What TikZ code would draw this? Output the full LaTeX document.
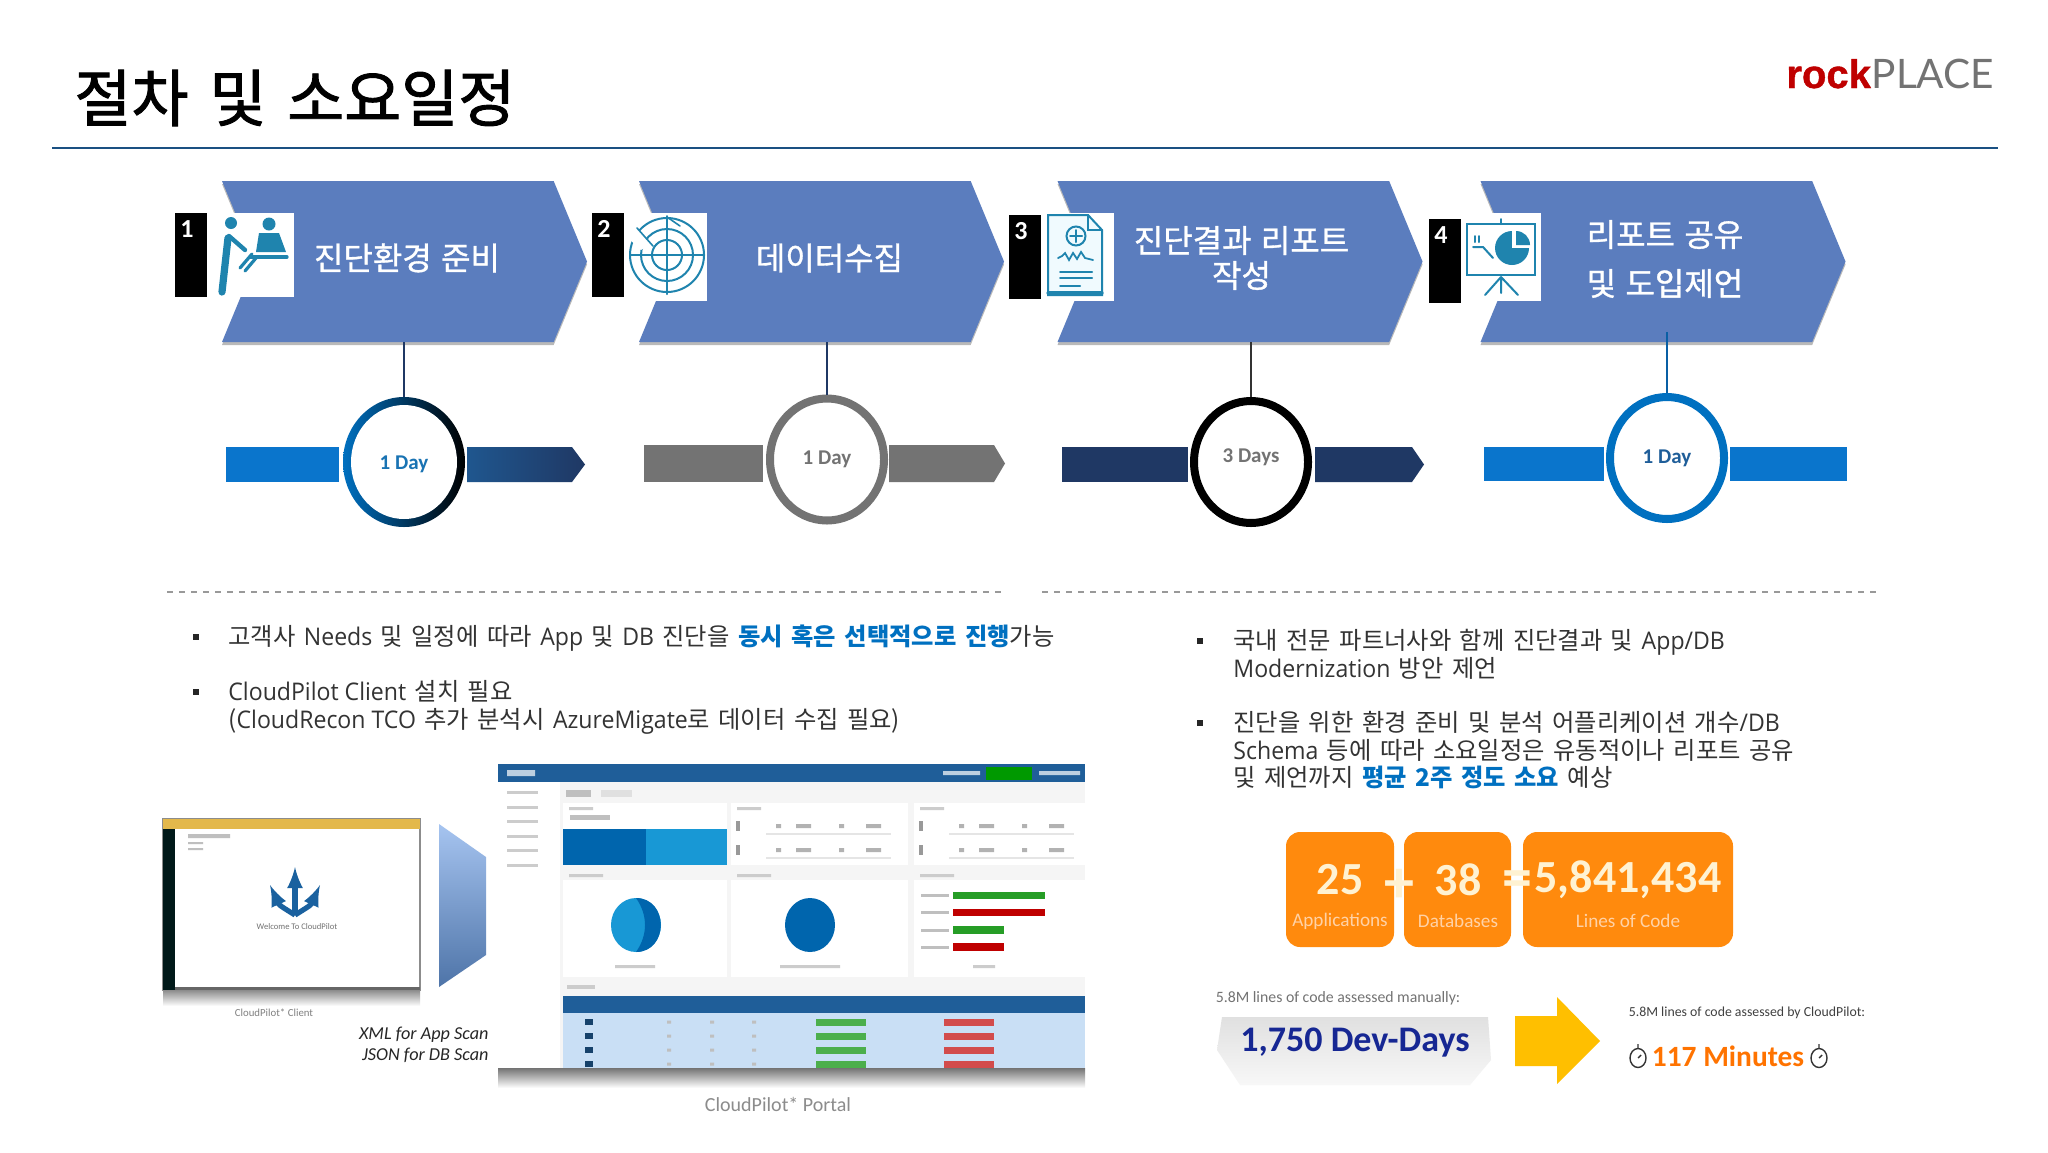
\documentclass[tikz,border=0pt]{standalone}
\usepackage{fontspec}
\setmainfont[WordSpace=1.55]{Noto Sans CJK KR}
\newfontfamily\titlefont[FakeBold=1.5,WordSpace=1.5]{Noto Sans CJK KR}
\newfontfamily\steplabfont[FakeBold=1,WordSpace=1.3]{Noto Sans CJK KR}
\newfontfamily\latfont[FakeStretch=.95]{Open Sans}
\newfontfamily\carlfont{Carlito}
\newfontfamily\rockfont[BoldFeatures={FakeBold=1}]{Liberation Sans}
\newfontfamily\thinfont{Lato}
\usetikzlibrary{shapes.symbols,shapes.geometric,shadows}

\definecolor{chevblue}{HTML}{5B7DBE}
\definecolor{hiblue}{HTML}{0070C0}
\definecolor{barblue}{HTML}{0A75CC}
\definecolor{navy}{HTML}{1F3864}
\definecolor{iconblue}{HTML}{1F84AE}
\definecolor{orangebox}{HTML}{FF8A0D}
\definecolor{cream}{HTML}{FFF2D2}
\definecolor{portalblue}{HTML}{1F5E99}
\definecolor{gradtop}{HTML}{A6C4F0}
\definecolor{gradbot}{HTML}{4E74A8}
\definecolor{winbar}{HTML}{E3B84B}
\definecolor{tablerow}{HTML}{C9DFF5}

\tikzset{
  chevron/.style={shape=signal,signal from=west,signal to=east,signal pointer angle=135,
    fill=chevblue,inner sep=0pt,minimum width=182.5pt,minimum height=80.5pt,
    drop shadow={shadow xshift=0pt,shadow yshift=-1.5pt,fill=gray,opacity=.55}},
  steplab/.style={text=white,inner sep=0pt,align=center,font=\steplabfont\fontsize{16}{17.5}\selectfont},
  tagbox/.style={fill=black,inner sep=0pt,minimum width=16pt,minimum height=42pt},
  tagnum/.style={text=white,inner sep=0pt,font=\carlfont\bfseries\fontsize{13}{13}\selectfont},
  ring/.style={shape=ellipse,draw,line width=4pt,fill=white,inner sep=0pt,minimum width=57pt,minimum height=61pt},
  daylab/.style={inner sep=0pt,font=\carlfont\bfseries\fontsize{10.5}{11}\selectfont},
  bodytext/.style={anchor=north west,inner sep=0pt,align=left,text=black!80,font=\fontsize{12.15}{13.75}\selectfont},
  bulletbox/.style={fill=black!85,inner sep=0pt,minimum size=3.3pt},
  orangecard/.style={fill=orangebox,rounded corners=7pt,inner sep=0pt},
  bignum/.style={text=cream,inner sep=0pt,font=\carlfont\bfseries\fontsize{23}{24}\selectfont},
  smalllab/.style={text=orange!35!white,inner sep=0pt,font=\carlfont\fontsize{9.6}{10}\selectfont},
  signlab/.style={text=cream,inner sep=0pt,font=\carlfont\bfseries\fontsize{30}{30}\selectfont},
}

\begin{document}
\begin{tikzpicture}[x=0.5pt,y=-0.5pt]
  \useasboundingbox (0,0) rectangle (2048,1152);
  \fill[white] (0,0) rectangle (2048,1152);

  \node[anchor=west,inner sep=0pt,font=\titlefont\fontsize{31}{31}\selectfont] (title) at (74,98) {절차 및 소요일정};
  \coordinate (ruleL) at (52,148);
  \coordinate (ruleR) at (1998,148);
  \draw[line width=1.2pt,color=portalblue!85!black] (ruleL) -- (ruleR);
  \node[anchor=base west,inner sep=0pt,text=red!75!black,font=\rockfont\bfseries\fontsize{20}{20}\selectfont] (rock) at (1786,88) {rock};
  \node[anchor=base west,inner sep=0pt,text=black!55,font=\thinfont\fontsize{20.3}{21}\selectfont] (place) at (rock.base east) {PLACE};

  % process row
  \node[chevron] (chev1) at (404.5,261.5) {};
  \node[chevron] (chev2) at (821.5,261.5) {};
  \node[chevron] (chev3) at (1240,261.5) {};
  \node[chevron] (chev4) at (1663,261.5) {};
  \node[steplab] (lab1) at (407,258) {진단환경 준비};
  \node[steplab] (lab2) at (829.5,258) {데이터수집};
  \node[steplab] (lab3) at (1241.5,258) {진단결과 리포트\\작성};
  \node[steplab,font=\steplabfont\fontsize{16}{24.5}\selectfont] (lab4) at (1665,259) {리포트 공유\\및 도입제언};
  \foreach \x/\y/\w/\h in {258/255/71/84,669/257/76/88,1080/257/67/88,1503/257/75/88}
    \fill[white] (\x-\w/2,\y-\h/2) rectangle (\x+\w/2,\y+\h/2);
  \foreach \i/\x/\y in {1/191/255,2/608/255,3/1025/257,4/1445/261} {
    \node[tagbox] (tag\i) at (\x,\y) {};
    \node[tagnum] (num\i) at (\x-4,\y-26) {\i};
  }

  % icons
  \begin{scope}[iconblue,line cap=round]
    \fill (231,223) circle (6);
    \fill (269,224) circle (6.5);
    \draw[line width=3.6pt] (228,238) -- (222,292);
    \draw[line width=2.2pt] (229,236) -- (245,250);
    \fill (259,233) -- (279,233) -- (286,252) -- (256,252) -- cycle;
    \draw[line width=1.6pt] (250,257) -- (287,257);
    \draw[line width=1.6pt] (240,268) -- (252,254) (245,271) -- (256,258);

    \draw[line width=1pt] (667,255) circle (37) (667,255) circle (26) (667,255) circle (15);
    \draw[line width=1pt] (630,255) -- (704,255) (667,216) -- (667,294);
    \draw[line width=1.2pt] (661,255) -- (673,255) (667,249) -- (667,261);
    \fill[white] (637,228) -- (650,244) -- (641,250) -- (628,238) -- cycle;
    \draw[line width=.8pt] (667,217) -- (680,226) (637,228) -- (653,246);

    \draw[line width=1pt,fill=cyan!6] (1048,215) -- (1088,215) -- (1102,230) -- (1102,295) -- (1048,295) -- cycle;
    \draw[line width=.8pt] (1088,215) -- (1088,230) -- (1102,230);
    \draw[line width=1.6pt] (1048,293) -- (1102,293);
    \draw[line width=1pt] (1076,236) circle (9.5);
    \draw[line width=1pt] (1070,236) -- (1082,236) (1076,230) -- (1076,242);
    \draw[line width=.9pt] (1058,258) -- (1062,256) -- (1065,253) -- (1069,260) -- (1073,253) -- (1077,259) -- (1081,252) -- (1085,258) -- (1093,260);
    \draw[line width=1pt] (1060,272) -- (1092,272) (1060,278) -- (1092,278) (1060,286) -- (1080,286);

    \draw[line width=1pt] (1467,224) rectangle (1535,275);
    \draw[line width=1pt] (1501,219) -- (1501,224);
    \fill (1512,248) circle (17);
    \fill[white] (1512,248) rectangle (1532,228);
    \fill (1516,245) -- (1516,231) arc[start angle=-90,end angle=0,radius=14] -- cycle;
    \draw[line width=1pt] (1473,247) -- (1483,247) -- (1493,258);
    \draw[line width=1pt] (1475,236) -- (1475,242) (1479,236) -- (1479,242);
    \draw[line width=1pt] (1501,277) -- (1485,295) (1501,277) -- (1501,293) (1501,277) -- (1518,295);
  \end{scope}

  % duration row
  \fill[color=barblue] (226,447) rectangle (339,482);
  \path[left color=portalblue!80!navy,right color=navy] (467,447) -- (572,447) -- (585,464.5) -- (572,482) -- (467,482) -- cycle;
  \fill[color=black!55] (644,445) rectangle (763,482);
  \fill[color=black!55] (889,445) -- (994,445) -- (1005,463.5) -- (994,482) -- (889,482) -- cycle;
  \fill[color=navy] (1062,447) rectangle (1188,482);
  \fill[color=navy] (1315,447) -- (1412,447) -- (1424,464.5) -- (1412,482) -- (1315,482) -- cycle;
  \fill[color=barblue] (1484,447) rectangle (1604,481);
  \fill[color=barblue] (1730,447) rectangle (1847,481);

  \node[shape=ellipse,left color=hiblue,right color=black,inner sep=0pt,minimum width=61pt,minimum height=65pt] (shade1) at (404,462) {};
  \node[ring,draw=none,minimum width=53pt,minimum height=57pt] (ring1) at (404,462) {};
  \node[ring,draw=black!55] (ring2) at (827,459.5) {};
  \node[ring,draw=black] (ring3) at (1251,462) {};
  \node[ring,draw=hiblue] (ring4) at (1667,458) {};
  \node[daylab,text=hiblue!80!gray] (day1) at (404,464) {1 Day};
  \node[daylab,text=black!55] (day2) at (827,459) {1 Day};
  \node[daylab,text=black!55] (day3) at (1251,457) {3 Days};
  \node[daylab,text=portalblue] (day4) at (1667,458) {1 Day};
  \coordinate (drop4) at (1667,332);
  \draw[line width=1pt,navy] (shade1.north) -- (shade1.north |- chev1.south);
  \draw[line width=1pt,navy] (ring2.north) -- (ring2.north |- chev2.south);
  \draw[line width=1pt,black!80] (ring3.north) -- (ring3.north |- chev3.south);
  \draw[line width=1pt,hiblue!70!navy] (ring4.north) -- (drop4);

  % notes
  \draw[dashed,line width=.6pt,black!40] (167,592) -- (1005,592);
  \draw[dashed,line width=.6pt,black!40] (1042,592) -- (1881,592);

  \foreach \n/\x/\y in {a/196/637,b/196/692,c/1200/641,d/1200/723}
    \node[bulletbox] (bul\n) at (\x,\y) {};
  \node[bodytext] (notea) at (228,625) {고객사 {\latfont Needs} 및 일정에 따라 {\latfont App} 및 {\latfont DB} 진단을 {\bfseries\color{hiblue}동시 혹은 선택적으로 진행}가능};
  \node[bodytext] (noteb) at (228,680) {{\latfont CloudPilot Client} 설치 필요\\({\latfont CloudRecon TCO} 추가 분석시 {\latfont AzureMigate}로 데이터 수집 필요)};
  \node[bodytext] (notec) at (1233,629) {국내 전문 파트너사와 함께 진단결과 및 {\latfont App/DB}\\{\latfont Modernization} 방안 제언};
  \node[bodytext] (noted) at (1233,711) {진단을 위한 환경 준비 및 분석 어플리케이션 개수{\latfont /DB}\\{\latfont Schema} 등에 따라 소요일정은 유동적이나 리포트 공유\\및 제언까지 {\bfseries\color{hiblue}평균 2주 정도 소요} 예상};

  % client window
  \path[top color=black!45,bottom color=white] (163,990) rectangle (420,1006);
  \fill[color=white] (163,819) rectangle (420,990);
  \draw[line width=.6pt,black!45] (163,819) rectangle (420,990);
  \fill[color=winbar] (163,819) rectangle (420,829);
  \fill[color=black!80!teal] (163,829) rectangle (175,990);
  \fill[color=black!60] (175,987) rectangle (420,990);
  \fill[color=black!25] (188,834) rectangle (230,838) (188,842) rectangle (203,844) (188,848) rectangle (203,850);
  \begin{scope}[portalblue!85!hiblue,line width=2.6pt,-latex]
    \draw (295,915) -- (295,867);
    \draw (295,915) .. controls (279,905) .. (270,885);
    \draw (295,915) .. controls (311,905) .. (320,885);
  \end{scope}
  \node[inner sep=0pt,text=black!55,font=\carlfont\fontsize{4.3}{5}\selectfont] (wintext) at (297,927) {Welcome To CloudPilot};
  \node[inner sep=0pt,text=black!50,font=\carlfont\fontsize{5.4}{6}\selectfont] (winlabel) at (274,1013) {CloudPilot* Client};

  \path[top color=gradtop,bottom color=gradbot] (439,824) -- (486,857) -- (486,955) -- (439,987) -- cycle;
  \node[anchor=east,inner sep=0pt,align=right,font=\carlfont\itshape\fontsize{9.1}{10.5}\selectfont,text=black!85] (scanlabel) at (489,1045) {XML for App Scan\\JSON for DB Scan};

  % portal screenshot
  \begin{scope}[xshift=-2.5pt]
    \path[top color=black!55,bottom color=white] (503,1068) rectangle (1090,1088);
    \fill[color=black!4] (503,764) rectangle (1090,1068);
    \fill[color=white] (503,764) rectangle (565,1068);
    \fill[color=portalblue] (503,764) rectangle (1090,782);
    \fill[color=green!60!black] (991,767) rectangle (1037,780);
    \fill[color=white!70!portalblue] (512,770) rectangle (540,776) (948,771) rectangle (985,775) (1044,771) rectangle (1085,775);
    \foreach \y in {792,807,821,836,850,865}
      \fill[color=black!20] (512,\y-1.5) rectangle (543,\y+1.5);
    \fill[color=black!25] (571,790) rectangle (596,797);
    \fill[color=black!12] (606,790) rectangle (637,797);
    \foreach \xa/\xb in {568/732,736/913,919/1090} {
      \fill[color=white] (\xa,803) rectangle (\xb,865);
      \fill[color=white] (\xa,880) rectangle (\xb,977);
      \fill[color=black!20] (\xa+6,807) rectangle (\xa+30,810) (\xa+6,874) rectangle (\xa+40,877);
    }
    \fill[color=hiblue!90!black] (568,829) rectangle (651,865);
    \fill[color=cyan!65!hiblue] (651,829) rectangle (732,865);
    \fill[color=black!25] (575,815) rectangle (615,820);
    \foreach \xa in {736,919}
      \foreach \y in {826,850} {
        \fill[color=black!40] (\xa+5,\y-5) rectangle (\xa+9,\y+5);
        \fill[color=black!30] (\xa+45,\y-2) rectangle (\xa+50,\y+2) (\xa+65,\y-2) rectangle (\xa+80,\y+2)
          (\xa+108,\y-2) rectangle (\xa+113,\y+2) (\xa+135,\y-2) rectangle (\xa+150,\y+2);
        \fill[color=black!10] (\xa+35,\y+7) rectangle (\xa+160,\y+9);
      }
    \fill[color=cyan!65!hiblue] (641,925) ellipse (25 and 27);
    \fill[color=hiblue!90!black] (641,898) .. controls (674,898) and (674,952) .. (641,952) .. controls (653,935) and (653,915) .. (641,898);
    \fill[color=hiblue!90!black] (815,925) ellipse (25 and 27);
    \fill[color=black!20] (620,965) rectangle (660,968) (785,965) rectangle (845,968) (978,965) rectangle (1000,968);
    \fill[color=green!55!black!85] (958,892) rectangle (1050,899);
    \fill[color=red!75!black] (958,909) rectangle (1050,916);
    \fill[color=green!55!black!85] (958,926) rectangle (1009,934);
    \fill[color=red!75!black] (958,943) rectangle (1009,951);
    \foreach \y in {895,912,930,947}
      \fill[color=black!25] (926,\y-1.5) rectangle (954,\y+1.5);
    \fill[color=black!20] (572,985) rectangle (600,989);
    \fill[color=tablerow] (568,1013) rectangle (1090,1068);
    \fill[color=portalblue] (568,996) rectangle (1090,1013);
    \foreach \y in {1022,1036,1050,1064} {
      \fill[color=green!55!black!70] (821,\y-3.5) rectangle (871,\y+3.5);
      \fill[color=red!75!black!70] (949,\y-3.5) rectangle (999,\y+3.5);
      \fill[color=portalblue!70!black] (590,\y-3) rectangle (598,\y+3);
      \fill[color=black!25] (672,\y-1.5) rectangle (676,\y+1.5) (715,\y-1.5) rectangle (719,\y+1.5) (757,\y-1.5) rectangle (761,\y+1.5);
    }
  \end{scope}
  \node[inner sep=0pt,text=black!45,font=\carlfont\fontsize{10}{10}\selectfont] (portallabel) at (778,1104) {CloudPilot* Portal};

  % figures
  \node[orangecard,minimum width=54pt,minimum height=57.5pt] (cardA) at (1340,889.5) {};
  \node[orangecard,minimum width=53.5pt,minimum height=57.5pt] (cardB) at (1457.5,889.5) {};
  \node[orangecard,minimum width=105pt,minimum height=57.5pt] (cardC) at (1628,889.5) {};
  \node[bignum] (numA) at (1340,880) {25};
  \node[bignum] (numB) at (1458,880) {38};
  \node[bignum] (numC) at (1628,880) {5,841,434};
  \node[smalllab] (labA) at (1340,921) {Applications};
  \node[smalllab] (labB) at (1458,921) {Databases};
  \node[smalllab] (labC) at (1628,921) {Lines of Code};
  \node[signlab] (plus) at (1399,886) {+};
  \node[signlab] (equal) at (1517,884) {=};

  \node[inner sep=0pt,text=black!55,font=\carlfont\fontsize{7.9}{9}\selectfont] (manual) at (1338,998) {5.8M lines of code assessed manually:};
  \path[top color=black!12,bottom color=black!3] (1222,1017) -- (1488,1017) -- (1491,1060) -- (1470,1085) -- (1240,1085) -- (1217,1050) -- cycle;
  \node[inner sep=0pt,text=navy!70!blue,font=\carlfont\bfseries\fontsize{18}{18}\selectfont] (devdays) at (1355,1043) {1,750 Dev-Days};
  \fill[color=orange!50!yellow] (1515,1016) -- (1557,1016) -- (1557,997) -- (1600,1041) -- (1557,1084) -- (1557,1066) -- (1515,1066) -- cycle;
  \node[inner sep=0pt,text=black!75,font=\carlfont\fontsize{6.9}{8}\selectfont] (auto) at (1747,1013) {5.8M lines of code assessed by CloudPilot:};
  \node[inner sep=0pt,text=orange!90!red,font=\carlfont\bfseries\fontsize{14.7}{17}\selectfont] (minutes) at (1728,1056) {117 Minutes};
  \foreach \x in {1638,1819} {
    \draw[line width=.7pt,black!80] (\x,1058) ellipse (8 and 9.5);
    \draw[line width=.7pt,black!80] (\x,1048) -- (\x,1044) (\x,1058) -- (\x+3,1055);
  }
\end{tikzpicture}
\end{document}
